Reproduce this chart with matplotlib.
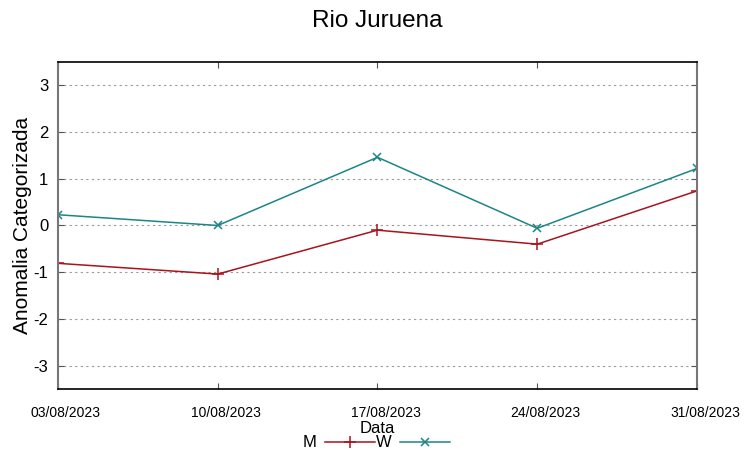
import matplotlib as mpl
import matplotlib.pyplot as plt
from matplotlib.transforms import ScaledTranslation

mpl.use("Agg")

dates = ["03/08/2023", "10/08/2023", "17/08/2023", "24/08/2023", "31/08/2023"]
serie_m = [-0.81, -1.04, -0.10, -0.40, 0.74]
serie_w = [0.23, 0.00, 1.46, -0.06, 1.22]
yticks = [-3, -2, -1, 0, 1, 2, 3]

plt.rcParams["font.family"] = ["Liberation Sans", "DejaVu Sans"]

fig = plt.figure(figsize=(7.53, 4.59), dpi=100)
ax = fig.add_axes([0.077, 0.1525, 0.8486, 0.7125])

x = list(range(len(dates)))
ax.plot(x, serie_m, color="#a8141b", lw=1.1, marker="+", ms=8, mew=1.1, label="M")
ax.plot(x, serie_w, color="#1d8585", lw=1.1, marker="x", ms=6, mew=1.1, label="W")

ax.set_xlim(0, len(dates) - 1)
ax.set_ylim(-3.5, 3.5)
ax.set_xticks(x)
ax.set_xticklabels(dates, fontsize=10)
ax.set_yticks(yticks)
ax.set_yticklabels([str(v) for v in yticks], fontsize=12)
ax.tick_params(axis="both", direction="in", top=True, right=True, length=4, color="#555555")
ax.tick_params(axis="x", pad=12)
ax.tick_params(axis="y", pad=7)
# gnuplot puts the date labels a little to the right of the ticks
shift = ScaledTranslation(8 / 100, 0, fig.dpi_scale_trans)
for lbl in ax.get_xticklabels():
    lbl.set_transform(lbl.get_transform() + shift)
for s in ["left", "right"]:
    ax.spines[s].set_color("#777777")
    ax.spines[s].set_linewidth(1.5)
for s in ["top", "bottom"]:
    ax.spines[s].set_color("black")
    ax.spines[s].set_linewidth(1.2)
ax.yaxis.grid(True, color="#999999", linestyle=(0, (2, 3)), lw=0.8)

ax.set_title("Rio Juruena", fontsize=17.5, pad=25)
ax.set_xlabel("Data", fontsize=12, labelpad=1)
ax.set_ylabel("Anomalia Categorizada", fontsize=15, labelpad=1)

fig.legend(loc="center", bbox_to_anchor=(0.5, 0.035), ncol=2, frameon=False,
           markerfirst=False, handlelength=3.0, columnspacing=0.1, handletextpad=0.5,
           fontsize=12)

plt.savefig("out.png", format="png", dpi=100)
plt.close()
